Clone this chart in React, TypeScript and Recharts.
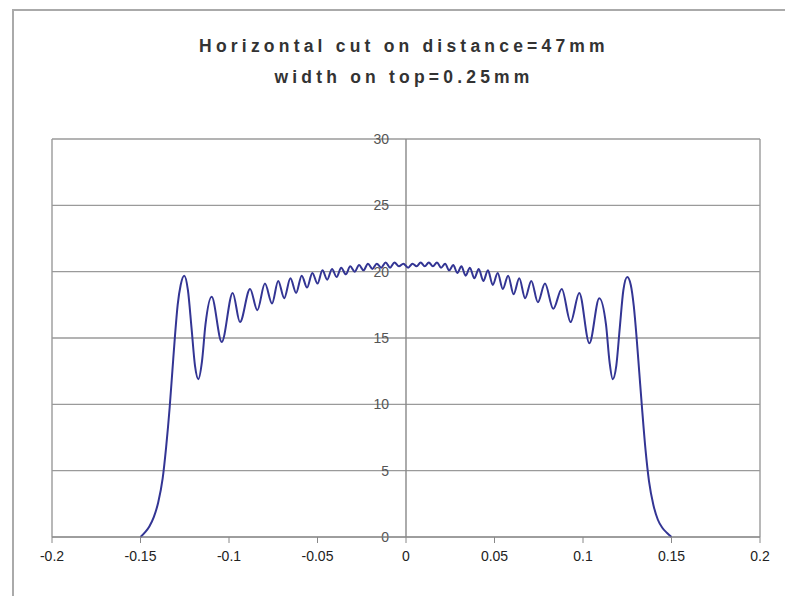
import React from 'react';
import { LineChart, Line, XAxis, YAxis, CartesianGrid, ReferenceLine } from 'recharts';

// values (position in mm, intensity)
const cutX = [
    -0.15, -0.1475, -0.145, -0.1425, -0.14, -0.1375, -0.1355, -0.1335, -0.132, -0.1305,
    -0.129, -0.1273, -0.1253, -0.1232, -0.1212, -0.1192, -0.1173, -0.1153, -0.1133, -0.1098,
    -0.1041, -0.0979, -0.0938, -0.0881, -0.084, -0.0797, -0.0757, -0.0722, -0.0688, -0.0653,
    -0.0621, -0.0589, -0.0559, -0.0529, -0.05, -0.0472, -0.0445, -0.0418, -0.0392, -0.0366,
    -0.034, -0.0315, -0.029, -0.0265, -0.024, -0.0215, -0.019, -0.0165, -0.014, -0.0115,
    -0.009, -0.0065, -0.004, -0.0015, 0.0012, 0.0037, 0.006, 0.0083, 0.0106, 0.0129,
    0.0152, 0.0175, 0.0198, 0.0221, 0.0244, 0.0267, 0.029, 0.0313, 0.0337, 0.0361,
    0.0386, 0.0411, 0.0437, 0.0463, 0.049, 0.0518, 0.0547, 0.0577, 0.0608, 0.064,
    0.0673, 0.0708, 0.0745, 0.0785, 0.0832, 0.088, 0.093, 0.0979, 0.1036, 0.1092,
    0.113, 0.115, 0.1168, 0.1188, 0.1208, 0.1228, 0.125, 0.127, 0.1287, 0.1303,
    0.1318, 0.1333, 0.1353, 0.1373, 0.1398, 0.1423, 0.1448, 0.1475, 0.15,
];
const cutY = [
    0, 0.35, 0.8, 1.5, 2.6, 4.4, 6.8, 9.8, 12.5, 15.2,
    17.5, 19.0, 19.7, 18.6, 15.8, 12.9, 11.9, 13.2, 16.0, 18.1,
    14.7, 18.4, 16.2, 18.7, 17.1, 19.1, 17.6, 19.3, 18.0, 19.5,
    18.4, 19.7, 18.8, 19.9, 19.1, 20.1, 19.4, 20.2, 19.6, 20.3,
    19.8, 20.4, 20.0, 20.5, 20.1, 20.6, 20.2, 20.6, 20.3, 20.7,
    20.3, 20.7, 20.4, 20.6, 20.3, 20.6, 20.4, 20.7, 20.4, 20.7,
    20.4, 20.7, 20.3, 20.6, 20.1, 20.5, 19.9, 20.4, 19.7, 20.3,
    19.5, 20.2, 19.3, 20.1, 19.0, 19.9, 18.7, 19.7, 18.3, 19.5,
    18.0, 19.3, 17.7, 19.1, 17.2, 18.7, 16.2, 18.4, 14.6, 18.0,
    16.0, 13.2, 11.9, 12.9, 15.8, 18.6, 19.6, 19.0, 17.4, 15.0,
    12.4, 9.8, 6.6, 4.2, 2.4, 1.3, 0.7, 0.3, 0,
];
const xTicks = [-0.2, -0.15, -0.1, -0.05, 0, 0.05, 0.1, 0.15, 0.2];
const yTicks = [0, 5, 10, 15, 20, 25, 30];

const data = cutX.map((x, i) => ({ x, y: cutY[i] }));

const gridColor = '#9a9a9a';
const font = "'Liberation Sans', Arial, sans-serif";

// y tick labels sit next to the axis drawn at x = 0 (middle of the plot)
const YLabel = (props: any) => {
    const { viewBox, value } = props;
    const cx = viewBox.x + viewBox.width / 2;
    return (
        <text x={cx - 17} y={viewBox.y} dy={5} textAnchor="end" fontSize={14} fill="#555" fontFamily={font}>
            {value}
        </text>
    );
};

export default function App() {
    return (
        <div style={{ position: 'absolute', left: 0, top: 0, width: 785, height: 596, background: '#fff', overflow: 'hidden' }}>
            <div style={{ position: 'absolute', left: 12, top: 9, width: 800, height: 600, borderLeft: '2px solid #aaa', borderTop: '2px solid #aaa' }} />
            <div style={{
                position: 'absolute', left: 4, top: 31, width: 800, textAlign: 'center',
                fontFamily: font, fontWeight: 'bold', fontSize: 17.5,
                letterSpacing: 4.2, color: '#333', lineHeight: '31px'
            }}>
                <div>Horizontal cut on distance=47mm</div>
                <div>width on top=0.25mm</div>
            </div>
            <div style={{ position: 'absolute', left: 0, top: 0 }}>
                <LineChart width={785} height={596} data={data} margin={{ top: 139, right: 25, bottom: 29, left: 52 }}>
                    <CartesianGrid vertical={false} stroke={gridColor} strokeWidth={1.4} />
                    <XAxis
                        dataKey="x"
                        type="number"
                        domain={[-0.2, 0.2]}
                        ticks={xTicks}
                        height={30}
                        tickSize={6}
                        tickMargin={8}
                        stroke="#888"
                        tick={{ fill: '#222', fontSize: 14, fontFamily: font }}
                    />
                    <YAxis hide type="number" domain={[0, 30]} ticks={yTicks} />
                    <ReferenceLine x={-0.2} stroke={gridColor} strokeWidth={1.4} />
                    <ReferenceLine x={0.2} stroke={gridColor} strokeWidth={1.4} />
                    <ReferenceLine x={0} stroke="#888" strokeWidth={1.4} />
                    {yTicks.map((t) => (
                        <ReferenceLine key={t} y={t} stroke="none" label={<YLabel value={t} />} />
                    ))}
                    <Line
                        type="monotone"
                        dataKey="y"
                        stroke="#333594"
                        strokeWidth={2}
                        dot={false}
                        isAnimationActive={false}
                    />
                </LineChart>
            </div>
        </div>
    );
}
